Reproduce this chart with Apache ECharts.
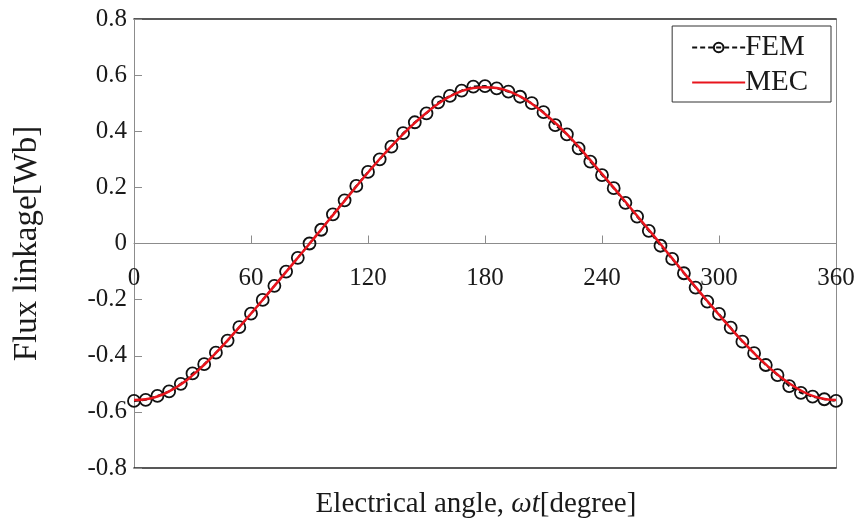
<!DOCTYPE html>
<html>
<head>
<meta charset="utf-8">
<script src="https://cdn.jsdelivr.net/npm/echarts@6/dist/echarts.min.js"></script>
<style>
  html, body { margin: 0; padding: 0; background: #fff; }
  #chart { width: 862px; height: 519px; }
</style>
</head>
<body>
<div id="chart"></div>
<script>
// Electrical angle samples (degrees), every 6 degrees over one period
const angles = [
  0, 6, 12, 18, 24, 30, 36, 42, 48, 54, 60, 66, 72, 78, 84, 90,
  96, 102, 108, 114, 120, 126, 132, 138, 144, 150, 156, 162, 168, 174, 180,
  186, 192, 198, 204, 210, 216, 222, 228, 234, 240, 246, 252, 258, 264, 270,
  276, 282, 288, 294, 300, 306, 312, 318, 324, 330, 336, 342, 348, 354, 360
];

// Flux linkage from finite element analysis [Wb]
const femFlux = [
  -0.561, -0.557, -0.543, -0.527, -0.500, -0.463, -0.430, -0.389, -0.346, -0.298,
  -0.250, -0.201, -0.151, -0.100, -0.051, 0.000, 0.049, 0.104, 0.154, 0.205,
  0.255, 0.300, 0.345, 0.393, 0.432, 0.464, 0.503, 0.526, 0.545, 0.559,
  0.561, 0.553, 0.541, 0.523, 0.500, 0.468, 0.422, 0.389, 0.339, 0.292,
  0.244, 0.197, 0.145, 0.096, 0.045, -0.008, -0.055, -0.106, -0.157, -0.207,
  -0.251, -0.300, -0.350, -0.391, -0.433, -0.469, -0.508, -0.532, -0.546, -0.555,
  -0.561
];

// Flux linkage from the magnetic equivalent circuit model [Wb]
const mecFlux = [
  -0.558, -0.555, -0.545, -0.527, -0.502, -0.470, -0.432, -0.390, -0.345, -0.298,
  -0.250, -0.201, -0.151, -0.101, -0.051, -0.001, 0.050, 0.101, 0.152, 0.203,
  0.253, 0.301, 0.347, 0.390, 0.430, 0.466, 0.498, 0.524, 0.543, 0.554,
  0.557, 0.554, 0.543, 0.524, 0.498, 0.466, 0.430, 0.390, 0.345, 0.297,
  0.248, 0.199, 0.149, 0.099, 0.049, -0.002, -0.053, -0.104, -0.155, -0.205,
  -0.254, -0.302, -0.348, -0.391, -0.431, -0.467, -0.498, -0.524, -0.543, -0.554,
  -0.558
];

const xTicks = { min: 0, max: 360, step: 60 };
const yTicks = { min: -0.8, max: 0.8, step: 0.2 };

const FONT = "'Liberation Serif', 'Times New Roman', serif";
const TEXT = '#1a1a1a';
const GRAY = '#8c8c8c';

// plot box geometry (pixels)
const GRID = { left: 134, right: 26, top: 19, bottom: 51 };
const plotHeight = 519 - GRID.top - GRID.bottom;
// distance from the bottom edge up to the zero-flux line
const zeroLift = plotHeight * (0 - yTicks.min) / (yTicks.max - yTicks.min);

const chart = echarts.init(document.getElementById('chart'), null, { renderer: 'canvas' });

chart.setOption({
  animation: false,
  backgroundColor: '#ffffff',
  textStyle: { fontFamily: FONT, color: TEXT },
  grid: {
    left: GRID.left, right: GRID.right, top: GRID.top, bottom: GRID.bottom,
    containLabel: false, outerBoundsMode: 'none'
  },
  legend: {
    right: 31, top: 26,
    orient: 'vertical',
    itemWidth: 53, itemHeight: 12, itemGap: 6,
    padding: [7, 23, 5, 19],
    borderColor: '#333', borderWidth: 1,
    backgroundColor: '#fff',
    textStyle: { fontFamily: FONT, fontSize: 29, color: TEXT, padding: [0, 0, 0, -5] },
    data: [
      { name: 'FEM' },
      { name: 'MEC', itemStyle: { color: 'rgba(0,0,0,0)', borderWidth: 0 } }
    ]
  },
  xAxis: [
    {
      // angle axis drawn along the zero-flux line
      type: 'value', position: 'bottom', offset: -zeroLift,
      min: xTicks.min, max: xTicks.max, interval: xTicks.step,
      axisLine: { onZero: false, lineStyle: { color: GRAY, width: 1 } },
      axisTick: { inside: true, length: 8, lineStyle: { color: GRAY } },
      axisLabel: { fontFamily: FONT, fontSize: 25, color: TEXT, margin: 22 },
      splitLine: { show: false }
    },
    {
      // top frame line
      type: 'value', position: 'top', min: xTicks.min, max: xTicks.max,
      axisLine: { onZero: false, lineStyle: { color: '#222', width: 1.5 } },
      axisTick: { show: false }, axisLabel: { show: false }, splitLine: { show: false }
    },
    {
      // bottom frame line with the axis title
      type: 'value', position: 'bottom', min: xTicks.min, max: xTicks.max,
      axisLine: { onZero: false, lineStyle: { color: '#222', width: 1.5 } },
      axisTick: { show: false }, axisLabel: { show: false }, splitLine: { show: false },
      name: 'Electrical angle, {i|ωt}[degree]',
      nameLocation: 'middle', nameGap: 22,
      nameTextStyle: {
        fontFamily: FONT, fontSize: 29, color: TEXT, padding: [0, 18, 0, 0],
        rich: { i: { fontFamily: FONT, fontSize: 29, fontStyle: 'italic', color: TEXT } }
      }
    }
  ],
  yAxis: [
    {
      type: 'value', min: yTicks.min, max: yTicks.max, interval: yTicks.step,
      axisLine: { show: true, onZero: false, lineStyle: { color: GRAY, width: 1 } },
      axisTick: { show: true, inside: true, length: 8, lineStyle: { color: GRAY } },
      axisLabel: {
        fontFamily: FONT, fontSize: 25, color: TEXT, margin: 7,
        formatter: v => (Math.abs(v) < 1e-9 ? '0' : v.toFixed(1))
      },
      splitLine: { show: false },
      name: 'Flux linkage[Wb]',
      nameLocation: 'middle', nameGap: 90, nameRotate: 90,
      nameTextStyle: { fontFamily: FONT, fontSize: 33, color: TEXT }
    },
    {
      // right frame line
      type: 'value', position: 'right', min: yTicks.min, max: yTicks.max,
      axisLine: { show: true, onZero: false, lineStyle: { color: GRAY, width: 1 } },
      axisTick: { show: false }, axisLabel: { show: false }, splitLine: { show: false }
    }
  ],
  series: [
    {
      name: 'FEM',
      type: 'line',
      xAxisIndex: 0, yAxisIndex: 0,
      data: angles.map((a, i) => [a, femFlux[i]]),
      symbol: 'circle',
      symbolSize: 12,
      showSymbol: true,
      itemStyle: { color: 'rgba(0,0,0,0)', borderColor: '#111', borderWidth: 1.8 },
      lineStyle: { color: '#111', width: 2, type: [5, 3] },
      z: 2
    },
    {
      name: 'MEC',
      type: 'line',
      xAxisIndex: 0, yAxisIndex: 0,
      data: angles.map((a, i) => [a, mecFlux[i]]),
      smooth: true,
      showSymbol: false,
      symbol: 'none',
      itemStyle: { color: '#e8141c' },
      lineStyle: { color: '#e8141c', width: 2.5 },
      z: 3
    }
  ]
});
</script>
</body>
</html>
